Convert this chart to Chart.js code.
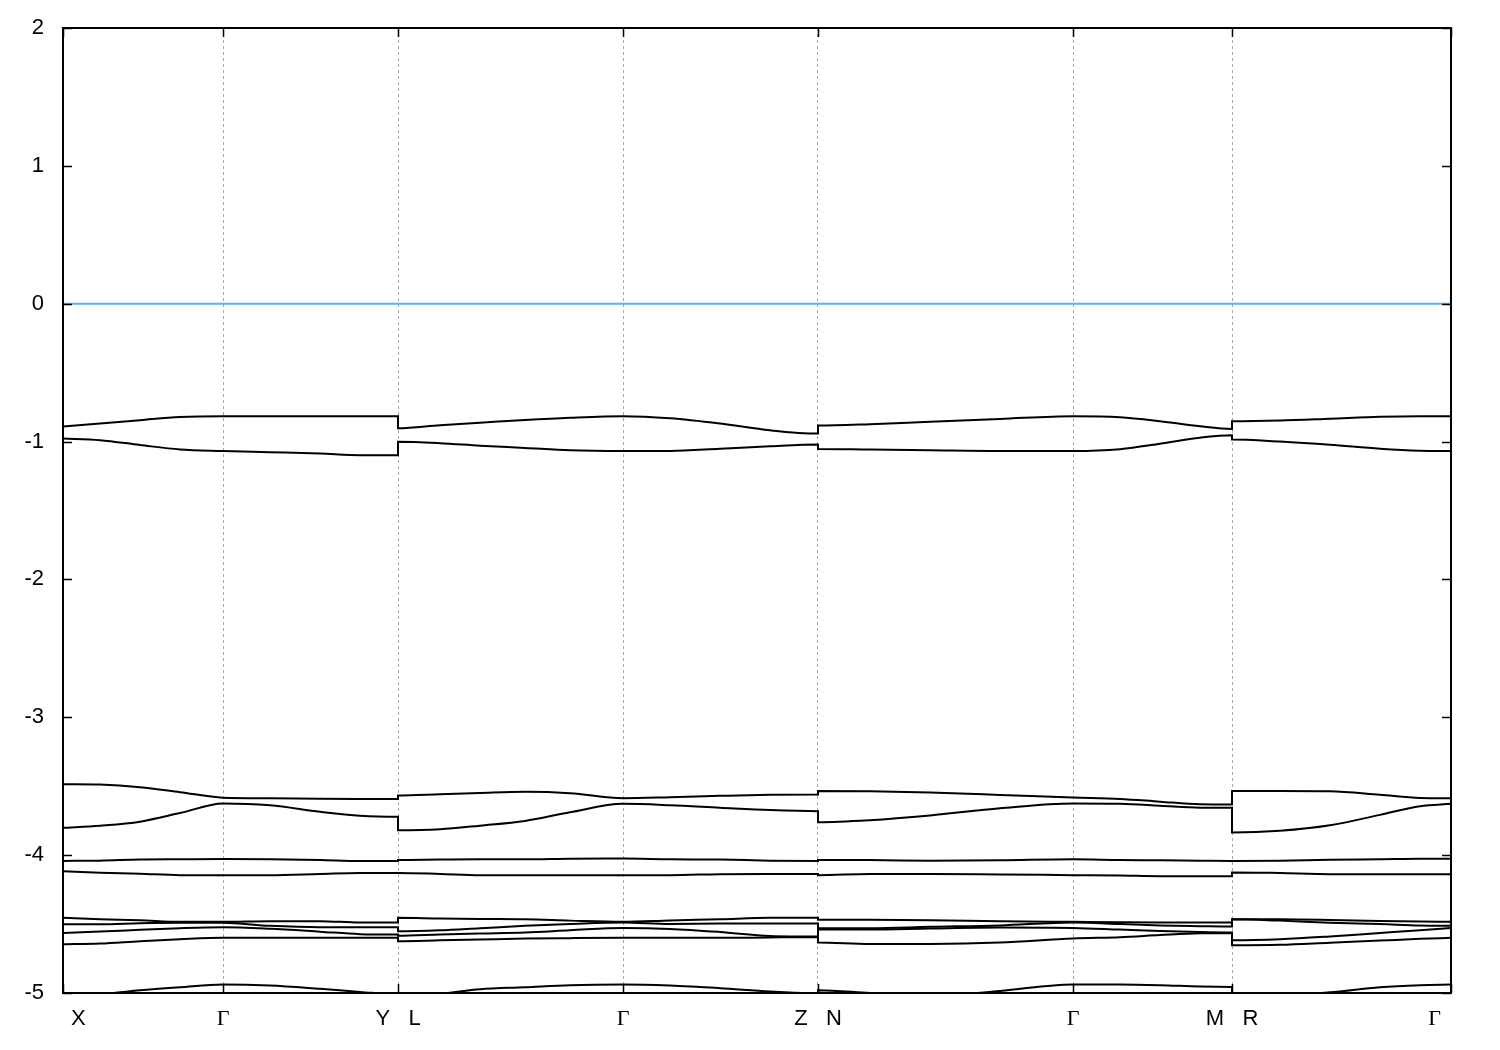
<!DOCTYPE html>
<html>
<head>
<meta charset="utf-8">
<script src="https://cdn.jsdelivr.net/npm/chart.js@4/dist/chart.umd.min.js"></script>
<style>
  body { margin: 0; background: #fff; }
  #wrap { width: 1500px; height: 1050px; }
</style>
</head>
<body>
<div id="wrap"><canvas id="bands" width="1500" height="1050"></canvas></div>
<script>
// high-symmetry points along the path and their labels
const kSpecial = [0, 1.60, 3.35, 5.60, 7.55, 10.10, 11.69, 13.88];
const tickLabels = ['     X', 'Γ', 'Y   L', 'Γ', 'Z   N', 'Γ', 'M   R', 'Γ      '];
const energyTicks = [-5, -4, -3, -2, -1, 0, 1, 2];

// k-path samples (repeated k at the jumps Y|L, Z|N, M|R)
const kPath = [
  0, 0.37, 0.77, 1.17, 1.60, 2.07, 2.57, 2.97, 3.35,
  3.35, 3.77, 4.17, 4.62, 5.07, 5.60, 6.07, 6.57, 7.07, 7.55,
  7.55, 8.07, 8.67, 9.37, 10.10, 10.57, 10.97, 11.37, 11.69,
  11.69, 12.17, 12.67, 13.17, 13.57, 13.88
];

// band energies (eV)
const band1 = [
  -0.891, -0.869, -0.845, -0.822, -0.816, -0.816, -0.816, -0.816, -0.816,
  -0.903, -0.881, -0.863, -0.843, -0.827, -0.816, -0.831, -0.869, -0.918, -0.942,
  -0.884, -0.874, -0.856, -0.836, -0.816, -0.823, -0.852, -0.889, -0.908,
  -0.852, -0.847, -0.834, -0.820, -0.816, -0.816
];
const band2 = [
  -0.978, -0.990, -1.025, -1.057, -1.068, -1.077, -1.087, -1.099, -1.099,
  -1.002, -1.012, -1.030, -1.046, -1.063, -1.068, -1.068, -1.052, -1.034, -1.022,
  -1.053, -1.058, -1.063, -1.068, -1.068, -1.055, -1.016, -0.972, -0.954,
  -0.985, -1.000, -1.023, -1.052, -1.066, -1.068
];
const band3 = [
  -3.485, -3.488, -3.507, -3.543, -3.583, -3.587, -3.591, -3.592, -3.592,
  -3.567, -3.558, -3.549, -3.541, -3.551, -3.587, -3.580, -3.570, -3.562, -3.560,
  -3.534, -3.536, -3.546, -3.563, -3.582, -3.592, -3.612, -3.631, -3.633,
  -3.534, -3.534, -3.536, -3.562, -3.585, -3.587
];
const band4 = [
  -3.802, -3.786, -3.757, -3.695, -3.625, -3.638, -3.685, -3.714, -3.722,
  -3.819, -3.812, -3.786, -3.752, -3.689, -3.628, -3.638, -3.656, -3.673, -3.681,
  -3.761, -3.746, -3.712, -3.660, -3.625, -3.627, -3.641, -3.656, -3.657,
  -3.836, -3.823, -3.783, -3.708, -3.645, -3.628
];
const band5 = [
  -4.042, -4.040, -4.032, -4.030, -4.028, -4.030, -4.035, -4.042, -4.042,
  -4.035, -4.032, -4.030, -4.030, -4.026, -4.025, -4.030, -4.032, -4.040, -4.042,
  -4.036, -4.036, -4.040, -4.037, -4.030, -4.035, -4.037, -4.040, -4.042,
  -4.042, -4.040, -4.033, -4.030, -4.027, -4.027
];
const band6 = [
  -4.117, -4.127, -4.135, -4.145, -4.145, -4.145, -4.136, -4.129, -4.129,
  -4.129, -4.136, -4.145, -4.145, -4.145, -4.145, -4.145, -4.138, -4.136, -4.136,
  -4.145, -4.136, -4.136, -4.140, -4.145, -4.148, -4.153, -4.153, -4.153,
  -4.125, -4.130, -4.138, -4.138, -4.138, -4.138
];
const band7 = [
  -4.455, -4.465, -4.472, -4.484, -4.484, -4.479, -4.479, -4.489, -4.489,
  -4.455, -4.460, -4.463, -4.465, -4.475, -4.484, -4.474, -4.465, -4.455, -4.455,
  -4.469, -4.469, -4.472, -4.479, -4.484, -4.487, -4.489, -4.489, -4.489,
  -4.465, -4.465, -4.470, -4.478, -4.482, -4.484
];
const band8 = [
  -4.501, -4.501, -4.494, -4.491, -4.491, -4.513, -4.523, -4.523, -4.523,
  -4.552, -4.545, -4.530, -4.513, -4.500, -4.489, -4.499, -4.496, -4.496, -4.496,
  -4.530, -4.530, -4.520, -4.510, -4.489, -4.500, -4.510, -4.515, -4.518,
  -4.465, -4.475, -4.490, -4.500, -4.510, -4.513
];
const band9 = [
  -4.564, -4.554, -4.542, -4.530, -4.523, -4.534, -4.555, -4.573, -4.576,
  -4.584, -4.575, -4.568, -4.561, -4.545, -4.528, -4.535, -4.557, -4.586, -4.590,
  -4.540, -4.540, -4.532, -4.525, -4.528, -4.540, -4.550, -4.558, -4.561,
  -4.617, -4.610, -4.590, -4.565, -4.545, -4.528
];
const band10 = [
  -4.646, -4.641, -4.624, -4.610, -4.600, -4.600, -4.600, -4.600, -4.600,
  -4.624, -4.618, -4.612, -4.605, -4.602, -4.600, -4.600, -4.600, -4.597, -4.595,
  -4.634, -4.644, -4.644, -4.634, -4.604, -4.595, -4.580, -4.567, -4.565,
  -4.653, -4.650, -4.635, -4.620, -4.607, -4.600
];
const band11 = [
  -5.030, -5.010, -4.980, -4.958, -4.938, -4.946, -4.970, -4.992, -5.010,
  -5.020, -5.005, -4.972, -4.958, -4.943, -4.938, -4.946, -4.965, -4.989, -5.003,
  -4.980, -5.000, -5.020, -4.985, -4.938, -4.938, -4.943, -4.953, -4.956,
  -5.030, -5.020, -4.995, -4.958, -4.943, -4.938
];
const bands = [band1, band2, band3, band4, band5, band6, band7, band8, band9, band10, band11];
const fermiLevel = 0;

const datasets = bands.map(b => ({
  data: kPath.map((k, i) => ({ x: k, y: b[i] })),
  borderColor: '#000',
  borderWidth: 2,
  pointRadius: 0,
  cubicInterpolationMode: 'monotone',
  showLine: true
}));
// Fermi level line
datasets.unshift({
  data: [{ x: kPath[0], y: fermiLevel }, { x: kPath[kPath.length - 1], y: fermiLevel }],
  borderColor: '#56b4e9',
  borderWidth: 2,
  pointRadius: 0,
  showLine: true
});

// gnuplot-style frame with inward tics
const framePlugin = {
  id: 'frame',
  afterDraw(chart) {
    const { ctx, chartArea: a, scales } = chart;
    ctx.save();
    ctx.strokeStyle = '#000';
    ctx.lineWidth = 1.5;
    ctx.beginPath();
    energyTicks.forEach(v => {
      const y = Math.round(scales.y.getPixelForValue(v)) + 0.5;
      ctx.moveTo(a.left, y); ctx.lineTo(a.left + 9, y);
      ctx.moveTo(a.right, y); ctx.lineTo(a.right - 9, y);
    });
    kSpecial.forEach(v => {
      const x = Math.round(scales.x.getPixelForValue(v)) + 0.5;
      ctx.moveTo(x, a.bottom); ctx.lineTo(x, a.bottom - 9);
      ctx.moveTo(x, a.top); ctx.lineTo(x, a.top + 9);
    });
    ctx.stroke();
    ctx.lineWidth = 2;
    ctx.strokeRect(a.left, a.top, a.right - a.left, a.bottom - a.top);
    ctx.restore();
  }
};

new Chart(document.getElementById('bands'), {
  type: 'scatter',
  data: { datasets },
  options: {
    responsive: false,
    animation: false,
    layout: { padding: { left: 0, top: 28, right: 49, bottom: 0 } },
    plugins: { legend: { display: false }, tooltip: { enabled: false } },
    scales: {
      x: {
        type: 'linear',
        min: kSpecial[0],
        max: kSpecial[kSpecial.length - 1],
        afterBuildTicks: s => { s.ticks = kSpecial.map(v => ({ value: v })); },
        afterFit: s => { s.height = 57; s.paddingLeft = 0; s.paddingRight = 0; },
        grid: { color: '#a8a8a8', lineWidth: 1, drawTicks: false },
        border: { display: false, dash: [3, 3] },
        ticks: {
          autoSkip: false,
          maxRotation: 0,
          padding: 13,
          color: '#000',
          font: c => ({
            family: tickLabels[c.index] && tickLabels[c.index].includes('Γ') ? 'Liberation Serif' : 'Liberation Sans',
            size: 22
          }),
          callback: (v, i) => tickLabels[i]
        }
      },
      y: {
        min: -5,
        max: 2,
        afterBuildTicks: s => { s.ticks = energyTicks.map(v => ({ value: v })); },
        afterFit: s => { s.width = 63; s.paddingTop = 0; s.paddingBottom = 0; },
        grid: { display: false, drawTicks: false },
        border: { display: false },
        ticks: {
          padding: 19,
          color: '#000',
          font: { family: 'Liberation Sans', size: 22 }
        }
      }
    }
  },
  plugins: [framePlugin]
});
</script>
</body>
</html>
